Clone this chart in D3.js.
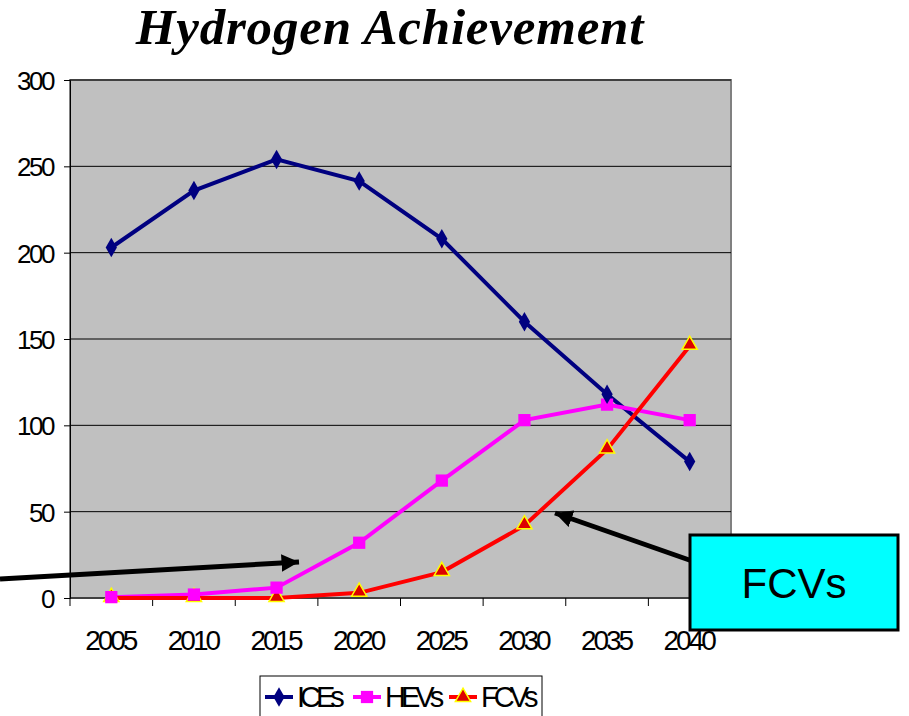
<!DOCTYPE html>
<html>
<head>
<meta charset="utf-8">
<script src="https://cdn.jsdelivr.net/npm/d3@7"></script>
<style>
  body { margin: 0; background: #fff; }
  svg { display: block; }
  .x-label { font-family: "Liberation Sans", Arial, sans-serif; font-size: 28px; letter-spacing: -3px; }
  .y-label { font-family: "Liberation Sans", Arial, sans-serif; font-size: 26px; letter-spacing: -2.5px; }
  .leg-label { font-family: "Liberation Sans", Arial, sans-serif; font-size: 29px; letter-spacing: -5px; }
</style>
</head>
<body>
<svg class="chart" width="909" height="716"></svg>
<script>
// dados
const years = ["2005", "2010", "2015", "2020", "2025", "2030", "2035", "2040"];
const ices = [203, 236, 254, 241.5, 208, 160, 118, 79];
const hevs = [0.5, 2, 6, 32, 68, 103, 112, 103];
const fcvs = [0, 0, 0, 3, 15, 42, 86, 146];
const yTicks = [0, 50, 100, 150, 200, 250, 300];

const series = [
  { name: "ICEs", values: ices, color: "#000080", marker: "diamond" },
  { name: "HEVs", values: hevs, color: "#FF00FF", marker: "square" },
  { name: "FCVs", values: fcvs, color: "#FF0000", marker: "triangle" }
];

const svg = d3.select('svg.chart');

// área do gráfico
const pLeft = 70, pRight = 731, pTop = 80, pBottom = 598;

const x = d3.scaleBand().domain(years).range([pLeft, pRight]);
const y = d3.scaleLinear().domain([0, 300]).range([pBottom, pTop]);

// título
svg.append('text')
  .attr('x', 390).attr('y', 44)
  .attr('text-anchor', 'middle')
  .attr('font-family', '"Liberation Serif", "Times New Roman", serif')
  .attr('font-weight', 'bold').attr('font-style', 'italic')
  .attr('font-size', 51)
  .attr('letter-spacing', 0.8)
  .text('Hydrogen Achievement');

// fundo cinza
svg.append('rect')
  .attr('x', pLeft).attr('y', pTop)
  .attr('width', pRight - pLeft).attr('height', pBottom - pTop)
  .attr('fill', '#C0C0C0')
  .attr('stroke', '#808080').attr('stroke-width', 2);

// linhas de grade
svg.append('g')
  .selectAll('line')
  .data(yTicks.filter(d => d > 0))
  .join('line')
  .attr('x1', pLeft).attr('x2', pRight)
  .attr('y1', d => y(d)).attr('y2', d => y(d))
  .attr('stroke', '#000').attr('stroke-width', 1);

// eixo y
const yAxis = svg.append('g')
  .attr('transform', `translate(${pLeft},0)`)
  .call(d3.axisLeft(y).tickValues(yTicks).tickSize(6).tickPadding(11));
yAxis.select('.domain').attr('stroke', '#000');
yAxis.selectAll('text').attr('class', 'y-label').attr('fill', '#000').attr('dy', '0.36em');

// eixo x (ticks nas bordas das categorias)
const xAxis = svg.append('g')
  .attr('transform', `translate(0,${pBottom})`);
xAxis.append('line')
  .attr('x1', pLeft).attr('x2', pRight)
  .attr('stroke', '#000');
xAxis.selectAll('line.tk')
  .data(years.concat(['end']))
  .join('line')
  .attr('class', 'tk')
  .attr('x1', (d, i) => pLeft + i * x.bandwidth())
  .attr('x2', (d, i) => pLeft + i * x.bandwidth())
  .attr('y1', 0).attr('y2', 8)
  .attr('stroke', '#000');
xAxis.selectAll('text')
  .data(years)
  .join('text')
  .attr('class', 'x-label')
  .attr('x', d => x(d) + x.bandwidth() / 2 - 1)
  .attr('y', 52)
  .attr('text-anchor', 'middle')
  .text(d => d);

// linhas das séries
const line = d3.line()
  .x((d, i) => x(years[i]) + x.bandwidth() / 2)
  .y(d => y(d));

const sym = {
  diamond: d3.symbol().type(d3.symbolDiamond).size(110),
  square: d3.symbol().type(d3.symbolSquare).size(150),
  triangle: d3.symbol().type(d3.symbolTriangle).size(100)
};

series.forEach(s => {
  svg.append('path')
    .datum(s.values)
    .attr('d', line)
    .attr('fill', 'none')
    .attr('stroke', s.color)
    .attr('stroke-width', 4);
});

series.slice().reverse().forEach(s => {
  svg.append('g')
    .selectAll('path')
    .data(s.values)
    .join('path')
    .attr('transform', (d, i) => `translate(${x(years[i]) + x.bandwidth() / 2},${y(d) - (s.marker == 'triangle' ? 1 : 0)})`)
    .attr('d', sym[s.marker])
    .attr('fill', s.marker == 'triangle' ? '#DD0000' : s.color)
    .attr('stroke', s.marker == 'triangle' ? '#FFFF00' : 'none')
    .attr('stroke-width', 1.5);
});

// setas
svg.append('defs').append('marker')
  .attr('id', 'head')
  .attr('viewBox', '0 0 10 10')
  .attr('refX', 10).attr('refY', 5)
  .attr('markerWidth', 3.5).attr('markerHeight', 3.5)
  .attr('markerUnits', 'strokeWidth')
  .attr('orient', 'auto')
  .append('path')
  .attr('d', 'M0,0 L10,5 L0,10 z')
  .attr('fill', '#000');

svg.append('line')
  .attr('x1', 0).attr('y1', 579)
  .attr('x2', 299).attr('y2', 562)
  .attr('stroke', '#000').attr('stroke-width', 5)
  .attr('marker-end', 'url(#head)');

svg.append('line')
  .attr('x1', 695).attr('y1', 562)
  .attr('x2', 555).attr('y2', 513)
  .attr('stroke', '#000').attr('stroke-width', 5)
  .attr('marker-end', 'url(#head)');

// caixa FCVs
svg.append('rect')
  .attr('x', 690).attr('y', 535)
  .attr('width', 208).attr('height', 95)
  .attr('fill', '#00FFFF')
  .attr('stroke', '#000').attr('stroke-width', 3);
svg.append('text')
  .attr('x', 794).attr('y', 598)
  .attr('text-anchor', 'middle')
  .attr('font-family', '"Liberation Sans", Arial, sans-serif')
  .attr('font-size', 42)
  .text('FCVs');

// legenda
const leg = svg.append('g');
leg.append('rect')
  .attr('x', 260).attr('y', 676)
  .attr('width', 282).attr('height', 50)
  .attr('fill', '#fff')
  .attr('stroke', '#000').attr('stroke-width', 1);

const legX = [265, 353, 449];
series.forEach((s, i) => {
  const g = leg.append('g').attr('transform', `translate(${legX[i]},697)`);
  g.append('line').attr('x1', 0).attr('x2', 28)
    .attr('stroke', s.color).attr('stroke-width', 4);
  g.append('path')
    .attr('transform', 'translate(14,0)')
    .attr('d', sym[s.marker])
    .attr('fill', s.marker == 'triangle' ? '#DD0000' : s.color)
    .attr('stroke', s.marker == 'triangle' ? '#FFFF00' : 'none')
    .attr('stroke-width', 1.5);
  g.append('text')
    .attr('class', 'leg-label')
    .attr('x', 32).attr('y', 10)
    .text(s.name);
});
</script>
</body>
</html>
